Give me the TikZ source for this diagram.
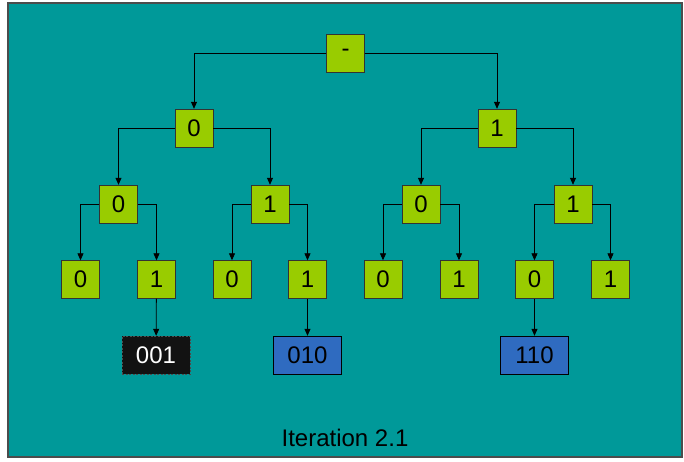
\documentclass[tikz,border=0pt]{standalone}
\usepackage{fontspec}
\setmainfont{Liberation Sans}
\usetikzlibrary{arrows.meta}

\definecolor{slide}{HTML}{009999}
\definecolor{bitgreen}{HTML}{99CC00}
\definecolor{codeblue}{HTML}{2F6BC0}

\begin{document}
\begin{tikzpicture}[x=1pt, y=-1pt,
    bit/.style={draw=black!80, fill=bitgreen, minimum width=38pt,
	minimum height=38pt, inner sep=0pt, font=\fontsize{24}{26}\selectfont},
    found/.style={draw=black, fill=codeblue, minimum width=68pt,
	minimum height=38pt, inner sep=0pt, font=\fontsize{24}{26}\selectfont},
    edge/.style={-{Triangle[length=7pt,width=6pt]}, line width=0.8pt}]
    % page and slide
    \fill[white] (0, 0) rectangle (684, 461);
    \draw[fill=slide, draw=black!70, line width=1.2pt] (8, 3) rectangle (682, 457);

    % the tree, t = root, a = 0 branch, b = 1 branch
    \node[bit] (t) at (345.5, 53) {-};
    \node[bit] (ta) at (194, 128) {0};
    \node[bit] (tb) at (497, 128) {1};
    \node[bit] (taa) at (118.5, 204) {0};
    \node[bit] (tab) at (270, 204) {1};
    \node[bit] (tba) at (421, 204) {0};
    \node[bit] (tbb) at (573, 204) {1};
    \node[bit] (taaa) at (80.5, 279.5) {0};
    \node[bit] (taab) at (156.5, 279.5) {1};
    \node[bit] (taba) at (232, 279.5) {0};
    \node[bit] (tabb) at (307.5, 279.5) {1};
    \node[bit] (tbaa) at (383, 279.5) {0};
    \node[bit] (tbab) at (459, 279.5) {1};
    \node[bit] (tbba) at (534.5, 279.5) {0};
    \node[bit] (tbbb) at (610.5, 279.5) {1};

    \foreach \p in {t, ta, tb, taa, tab, tba, tbb} {
	\draw[edge] (\p.west) -| (\p a.north);
	\draw[edge] (\p.east) -| (\p b.north);
    }

    % codes reached so far
    \node[found, fill=black!93, draw=black!70, dash pattern=on 2pt off 1.5pt,
	text=white] (c1) at (156, 355) {001};
    \node[found] (c2) at (307.5, 355) {010};
    \node[found] (c3) at (534.5, 355) {110};
    \draw[edge] (taab) -- (c1);
    \draw[edge] (tabb) -- (c2);
    \draw[edge] (tbba) -- (c3);

    \node[font=\fontsize{24}{26}\selectfont] (it) at (345, 438) {Iteration 2.1};
\end{tikzpicture}
\end{document}
